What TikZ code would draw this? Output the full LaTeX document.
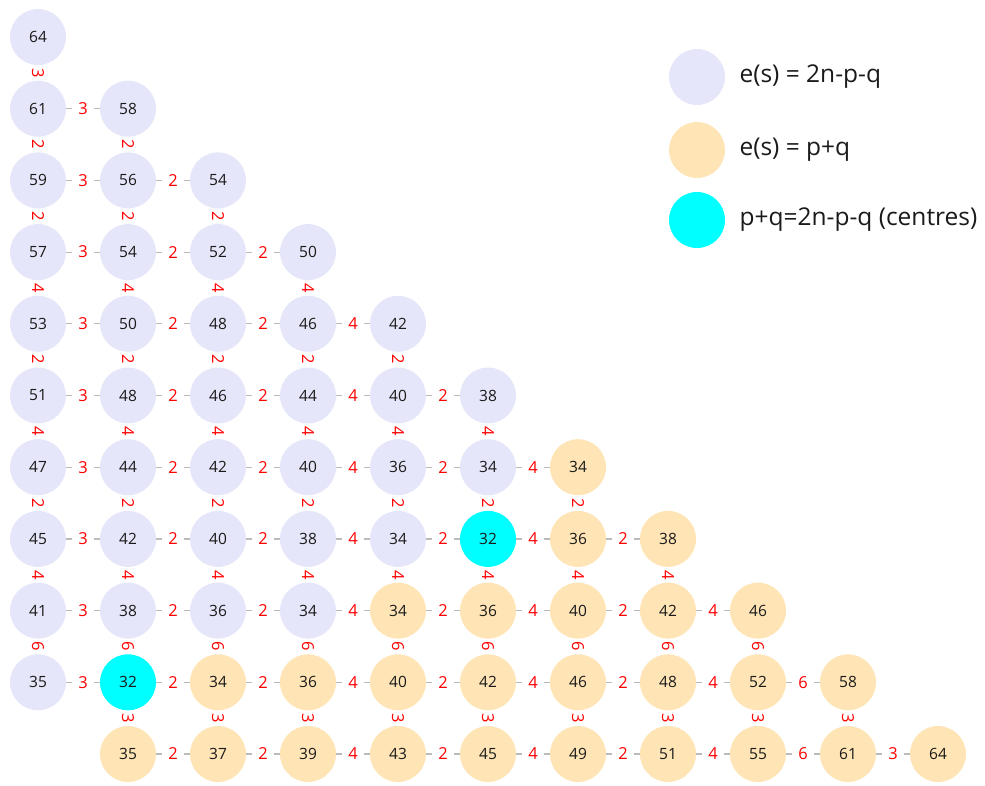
\documentclass[tikz,border=0pt]{standalone}
\usepackage{fontspec}
\setmainfont{Open Sans}
\pgfdeclarelayer{bg}
\pgfsetlayers{bg,main}
\definecolor{lav}{HTML}{E6E6FA}
\definecolor{moc}{HTML}{FFE4B5}
\definecolor{cya}{HTML}{00FFFF}
\definecolor{edgegray}{HTML}{BBBBBB}
\definecolor{numcol}{HTML}{1A1A1A}
\begin{document}
\begin{tikzpicture}[x=1pt,y=-1pt,
 vtx/.style={circle,inner sep=0pt,minimum size=56pt,text=numcol,font=\fontsize{15.5}{18}\selectfont},
 edge/.style={draw=edgegray,line width=1.2pt},
 hlab/.style={fill=white,text=red,inner xsep=6pt,inner ysep=2pt,font=\fontsize{16.5}{19}\selectfont},
 vlab/.style={hlab,rotate=-90},
 legtext/.style={anchor=west,font=\fontsize{24.5}{29}\selectfont,text=numcol}]
\useasboundingbox (0,0) rectangle (985,785);
\foreach \r/\s/\row in {
 0/0/{64/lav},
 1/0/{61/lav,58/lav},
 2/0/{59/lav,56/lav,54/lav},
 3/0/{57/lav,54/lav,52/lav,50/lav},
 4/0/{53/lav,50/lav,48/lav,46/lav,42/lav},
 5/0/{51/lav,48/lav,46/lav,44/lav,40/lav,38/lav},
 6/0/{47/lav,44/lav,42/lav,40/lav,36/lav,34/lav,34/moc},
 7/0/{45/lav,42/lav,40/lav,38/lav,34/lav,32/cya,36/moc,38/moc},
 8/0/{41/lav,38/lav,36/lav,34/lav,34/moc,36/moc,40/moc,42/moc,46/moc},
 9/0/{35/lav,32/cya,34/moc,36/moc,40/moc,42/moc,46/moc,48/moc,52/moc,58/moc},
 10/1/{35/moc,37/moc,39/moc,43/moc,45/moc,49/moc,51/moc,55/moc,61/moc,64/moc}}{
  \foreach \v/\t [count=\k from 0] in \row {
    \pgfmathtruncatemacro\c{\s+\k}
    \node[vtx,fill=\t] (n-\r-\c) at ({38+90*\c},{37+71.7*\r}) {\v};
  }
}
\begin{pgfonlayer}{bg}
% horizontal edges
\foreach \r in {1,...,9}{
  \pgfmathtruncatemacro\e{\r-1}
  \foreach \c in {0,...,\e}{
    \pgfmathtruncatemacro\d{\c+1}
    \pgfmathtruncatemacro\w{{3,2,2,4,2,4,2,4,6,3}[\c]}
    \draw[edge] (n-\r-\c) -- node[midway,hlab]{\w} (n-\r-\d);
  }
}
\foreach \c in {1,...,9}{
  \pgfmathtruncatemacro\d{\c+1}
  \pgfmathtruncatemacro\w{{3,2,2,4,2,4,2,4,6,3}[\c]}
  \draw[edge] (n-10-\c) -- node[midway,hlab]{\w} (n-10-\d);
}
% vertical edges
\foreach \r in {0,...,8}{
  \pgfmathtruncatemacro\q{\r+1}
  \pgfmathtruncatemacro\w{{3,2,2,4,2,4,2,4,6,3}[\r]}
  \draw[edge] (n-\r-0) -- node[midway,vlab]{\w} (n-\q-0);
}
\foreach \c in {1,...,9}{
  \foreach \r in {\c,...,9}{
    \pgfmathtruncatemacro\q{\r+1}
    \pgfmathtruncatemacro\w{{3,2,2,4,2,4,2,4,6,3}[\r]}
    \draw[edge] (n-\r-\c) -- node[midway,vlab]{\w} (n-\q-\c);
  }
}
\end{pgfonlayer}
% legend
\node[vtx,fill=lav] (l1) at (697,77) {};
\node[vtx,fill=moc] (l2) at (697,150) {};
\node[vtx,fill=cya] (l3) at (697,220) {};
\node[legtext] (t1) at (736,77) {e(s) = 2n-p-q};
\node[legtext] (t2) at (736,150) {e(s) = p+q};
\node[legtext] (t3) at (736,220) {p+q=2n-p-q (centres)};
\end{tikzpicture}
\end{document}
